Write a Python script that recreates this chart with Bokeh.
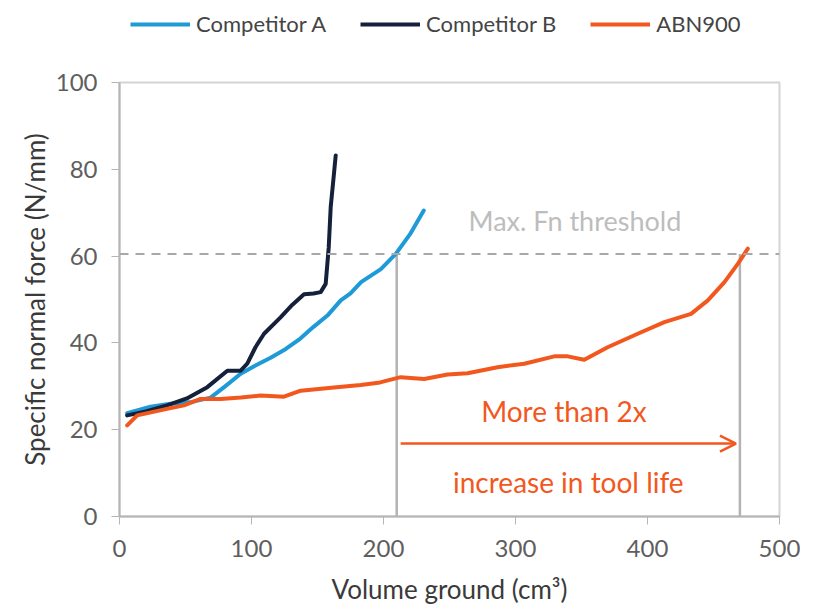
from bokeh.plotting import figure
from bokeh.layouts import column
from bokeh.models import (Range1d, Legend, LegendItem, Span, Arrow, OpenHead,
                          Label, FixedTicker, ColumnDataSource)
from bokeh.embed import file_html
from bokeh.resources import INLINE

# ---- data ----
comp_a_x = [5.8, 23.5, 38.7, 55, 69, 80, 91.8, 103, 114.5, 126, 137, 147, 157.5, 167.6, 175, 183, 198, 209.3, 220, 230.5]
comp_a_y = [23.8, 25.3, 26.0, 26.4, 27.4, 30.0, 32.9, 34.8, 36.6, 38.6, 41.0, 43.7, 46.3, 49.8, 51.4, 54.0, 57.0, 60.5, 65.0, 70.5]

comp_b_x = [5.8, 20, 36, 51, 66.5, 81.7, 91.8, 96.8, 103, 109.5, 122, 131, 139.8, 147, 152.4, 156.2, 158.5, 160, 162, 163.8]
comp_b_y = [23.3, 24.2, 25.6, 27.2, 29.8, 33.6, 33.6, 35.2, 39.0, 42.1, 45.9, 48.8, 51.2, 51.4, 51.7, 53.6, 62.0, 71.3, 77.5, 83.2]

abn_x = [5.8, 13.4, 36, 48.8, 61.4, 76.6, 92, 107, 124.6, 137.3, 162.4, 182.8, 197.4, 213, 230.8, 248.5, 263.7,
         286.4, 306.6, 329.4, 339.5, 352.1, 369.8, 392.6, 412.8, 433, 445.7, 458.3, 468.4, 476]
abn_y = [21.0, 23.3, 24.8, 25.6, 27.1, 27.1, 27.4, 27.9, 27.6, 29.0, 29.7, 30.3, 30.9, 32.1, 31.7, 32.7, 33.0,
         34.4, 35.2, 36.9, 36.9, 36.1, 39.0, 42.1, 44.8, 46.7, 49.8, 54.0, 58.2, 61.7]

series_names = ["Competitor A", "Competitor B", "ABN900"]
series_colors = ["#1e9ad6", "#15213a", "#f2581e"]

threshold = 60.5
life_a = 210
life_abn = 470
arrow_y = 16.8

x_ticks = [0, 100, 200, 300, 400, 500]
y_ticks = [0, 20, 40, 60, 80, 100]

FONT = "Lato"

# ---- main chart ----
p = figure(width=800, height=565, output_backend="svg", toolbar_location=None,
           x_range=Range1d(0, 500), y_range=Range1d(0, 100),
           min_border_left=119, min_border_right=21, min_border_top=37, min_border_bottom=94)
p.outline_line_color = "#d4d4d4"
p.outline_line_width = 2
p.xgrid.visible = False
p.ygrid.visible = False

for ax in (p.xaxis[0], p.yaxis[0]):
    ax.axis_line_color = "#b5b5b5"
    ax.axis_line_width = 2
    ax.major_tick_line_color = "#b5b5b5"
    ax.major_tick_line_width = 1
    ax.major_tick_out = 8
    ax.major_tick_in = 0
    ax.minor_tick_line_color = None
    ax.major_label_text_font = FONT
    ax.major_label_text_font_size = "24px"
    ax.major_label_text_color = "#5e5e5e"
    ax.axis_label_text_font = FONT
    ax.axis_label_text_font_size = "26px"
    ax.axis_label_text_font_style = "normal"
    ax.axis_label_text_color = "#3a3a3a"

p.xaxis.ticker = FixedTicker(ticks=x_ticks)
p.yaxis.ticker = FixedTicker(ticks=y_ticks)
p.xaxis.axis_label = "Volume ground (cm³)"
p.yaxis.axis_label = "Specific normal force (N/mm)"
p.xaxis.major_label_standoff = 15
p.yaxis.major_label_standoff = 14
p.xaxis.axis_label_standoff = 13
p.yaxis.axis_label_standoff = 2

p.add_layout(Span(location=threshold, dimension="width", line_color="#a8a8a8",
                  line_width=2, line_dash="9 7"))

seg = ColumnDataSource(dict(x0=[life_a, life_abn], y0=[0, 0], x1=[life_a, life_abn], y1=[threshold, threshold]))
p.segment("x0", "y0", "x1", "y1", source=seg, line_color="#b3b3b3", line_width=2.5)

for xs, ys, c in zip([comp_a_x, comp_b_x, abn_x], [comp_a_y, comp_b_y, abn_y], series_colors):
    p.line(xs, ys, line_color=c, line_width=4, line_join="round", line_cap="round")

p.add_layout(Arrow(end=OpenHead(line_color=series_colors[2], line_width=2.5, size=16),
                   x_start=life_a + 3, y_start=arrow_y, x_end=life_abn - 3, y_end=arrow_y,
                   line_color=series_colors[2], line_width=2.5))

p.add_layout(Label(x=345, y=68.2, text="Max. Fn threshold", text_font=FONT, text_font_size="27px",
                   text_color="#bdbdbd", text_align="center", text_baseline="middle"))
p.add_layout(Label(x=336.7, y=24.4, text="More than 2x", text_font=FONT, text_font_size="28px",
                   text_color=series_colors[2], text_align="center", text_baseline="middle"))
p.add_layout(Label(x=340, y=8.0, text="increase in tool life", text_font=FONT, text_font_size="28px",
                   text_color=series_colors[2], text_align="center", text_baseline="middle"))

# ---- legend strip ----
lg = figure(width=800, height=45, output_backend="svg", toolbar_location=None,
            x_range=Range1d(0, 1), y_range=Range1d(0, 1),
            min_border_left=119, min_border_right=21, min_border_top=0, min_border_bottom=0)
lg.axis.visible = False
lg.grid.visible = False
lg.outline_line_color = None
dummy = []
for c in series_colors:
    dummy.append(lg.line(x=[5, 6], y=[5, 5], line_color=c, line_width=4))
legend = Legend(items=[LegendItem(label=n, renderers=[r]) for n, r in zip(series_names, dummy)],
                orientation="horizontal", location=(11, 8),
                label_text_font=FONT, label_text_font_size="22px", label_text_color="#444444",
                glyph_width=60, glyph_height=24, label_standoff=6, spacing=34,
                border_line_color=None, background_fill_alpha=0, padding=0, margin=0)
lg.add_layout(legend)

layout = column(lg, p, spacing=0)
open("out.html", "w").write(file_html(layout, INLINE))
